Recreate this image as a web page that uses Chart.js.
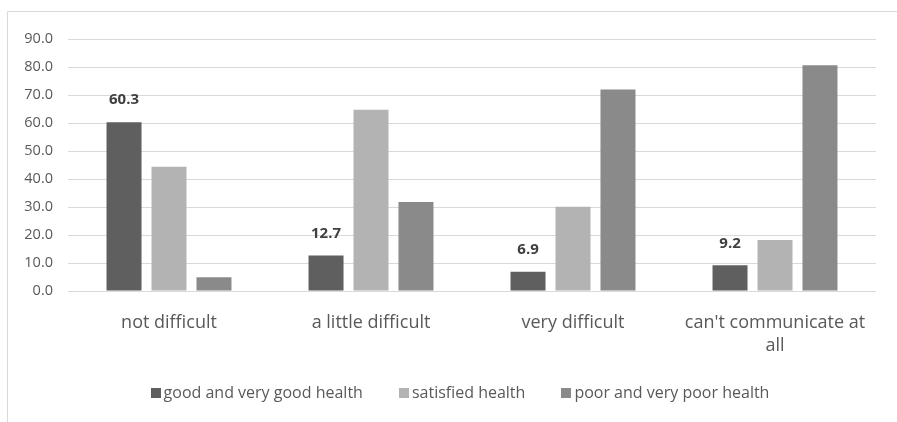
<!DOCTYPE html>
<html>
<head>
<meta charset="utf-8">
<script src="https://cdn.jsdelivr.net/npm/chart.js@4.4.1/dist/chart.umd.min.js"></script>
<style>
  html, body { margin: 0; padding: 0; background: #ffffff; }
  #wrap { position: relative; width: 897px; height: 422px; }
</style>
</head>
<body>
<div id="wrap"><canvas id="chart" width="897" height="422"></canvas></div>
<script>
// Categories along the x axis (multi-line labels as arrays)
const categories = [
  'not difficult',
  'a little difficult',
  'very difficult',
  ["can't communicate at", 'all']
];

// Series names
const seriesNames = [
  'good and very good health',
  'satisfied health',
  'poor and very poor health'
];

// Series values (%)
const goodHealth = [60.3, 12.7, 6.9, 9.2];
const satisfiedHealth = [44.4, 64.7, 30.1, 18.2];
const poorHealth = [4.9, 31.8, 72.0, 80.6];

// Y axis ticks
const yTicks = [0, 10, 20, 30, 40, 50, 60, 70, 80, 90];

const seriesColors = ['#5f5f5f', '#b3b3b3', '#8a8a8a'];
const FONT = "'Open Sans', 'Noto Sans', sans-serif";

// Light frame along the top and left edges of the chart
const framePlugin = {
  id: 'frame',
  beforeDraw(chart) {
    const ctx = chart.ctx;
    ctx.save();
    ctx.strokeStyle = '#d9d9d9';
    ctx.lineWidth = 1;
    ctx.beginPath();
    ctx.moveTo(7.5, chart.height);
    ctx.lineTo(7.5, 11.5);
    ctx.lineTo(chart.width, 11.5);
    ctx.stroke();
    ctx.restore();
  }
};

// Value labels above the first series' bars
const valueLabels = {
  id: 'valueLabels',
  afterDatasetsDraw(chart) {
    const ctx = chart.ctx;
    const meta = chart.getDatasetMeta(0);
    const values = chart.data.datasets[0].data;
    ctx.save();
    ctx.font = 'bold 15px ' + FONT;
    ctx.fillStyle = '#404040';
    ctx.textAlign = 'center';
    ctx.textBaseline = 'middle';
    meta.data.forEach((bar, i) => {
      ctx.fillText(values[i].toFixed(1), bar.x, bar.y - 22);
    });
    ctx.restore();
  }
};

// Compact legend row below the axis: small square, tight gap, then the name
const legendRow = {
  id: 'legendRow',
  afterDraw(chart) {
    const ctx = chart.ctx;
    const box = 10, textGap = 3, itemGap = 36, centerX = 460, rowY = 393;
    ctx.save();
    ctx.font = '16px ' + FONT;
    ctx.textBaseline = 'middle';
    ctx.textAlign = 'left';
    const items = chart.data.datasets.map(ds => ({
      text: ds.label, color: ds.backgroundColor, w: ctx.measureText(ds.label).width
    }));
    const total = items.reduce((s, it) => s + box + textGap + it.w, 0) + itemGap * (items.length - 1);
    let x = centerX - total / 2;
    items.forEach(it => {
      ctx.fillStyle = it.color;
      ctx.fillRect(Math.round(x), rowY - box / 2, box, box);
      ctx.fillStyle = '#595959';
      ctx.fillText(it.text, x + box + textGap, rowY);
      x += box + textGap + it.w + itemGap;
    });
    ctx.restore();
  }
};

new Chart(document.getElementById('chart'), {
  type: 'bar',
  data: {
    labels: categories,
    datasets: [
      { label: seriesNames[0], data: goodHealth, backgroundColor: seriesColors[0] },
      { label: seriesNames[1], data: satisfiedHealth, backgroundColor: seriesColors[1] },
      { label: seriesNames[2], data: poorHealth, backgroundColor: seriesColors[2] }
    ]
  },
  options: {
    responsive: false,
    animation: false,
    devicePixelRatio: 1,
    datasets: {
      bar: { categoryPercentage: 0.668, barPercentage: 0.778, borderWidth: 0 }
    },
    layout: { padding: { top: 39, right: 21, bottom: 62, left: 0 } },
    plugins: {
      tooltip: { enabled: false },
      legend: { display: false }
    },
    scales: {
      x: {
        grid: { display: false, drawTicks: false },
        border: { display: false },
        ticks: {
          color: '#595959',
          padding: 20,
          maxRotation: 0,
          autoSkip: false,
          font: { family: FONT, size: 18, lineHeight: 1.3 }
        },
        afterFit(scale) { scale.height = 69; }
      },
      y: {
        min: yTicks[0],
        max: yTicks[yTicks.length - 1],
        afterBuildTicks(scale) { scale.ticks = yTicks.map(v => ({ value: v })); },
        grid: { color: '#d9d9d9', lineWidth: 1, drawTicks: false },
        border: { display: false },
        ticks: {
          color: '#595959',
          padding: 15,
          font: { family: FONT, size: 14.5 },
          callback: v => Number(v).toFixed(1)
        },
        afterFit(scale) { scale.width = 68; }
      }
    }
  },
  plugins: [framePlugin, valueLabels, legendRow]
});
</script>
</body>
</html>
